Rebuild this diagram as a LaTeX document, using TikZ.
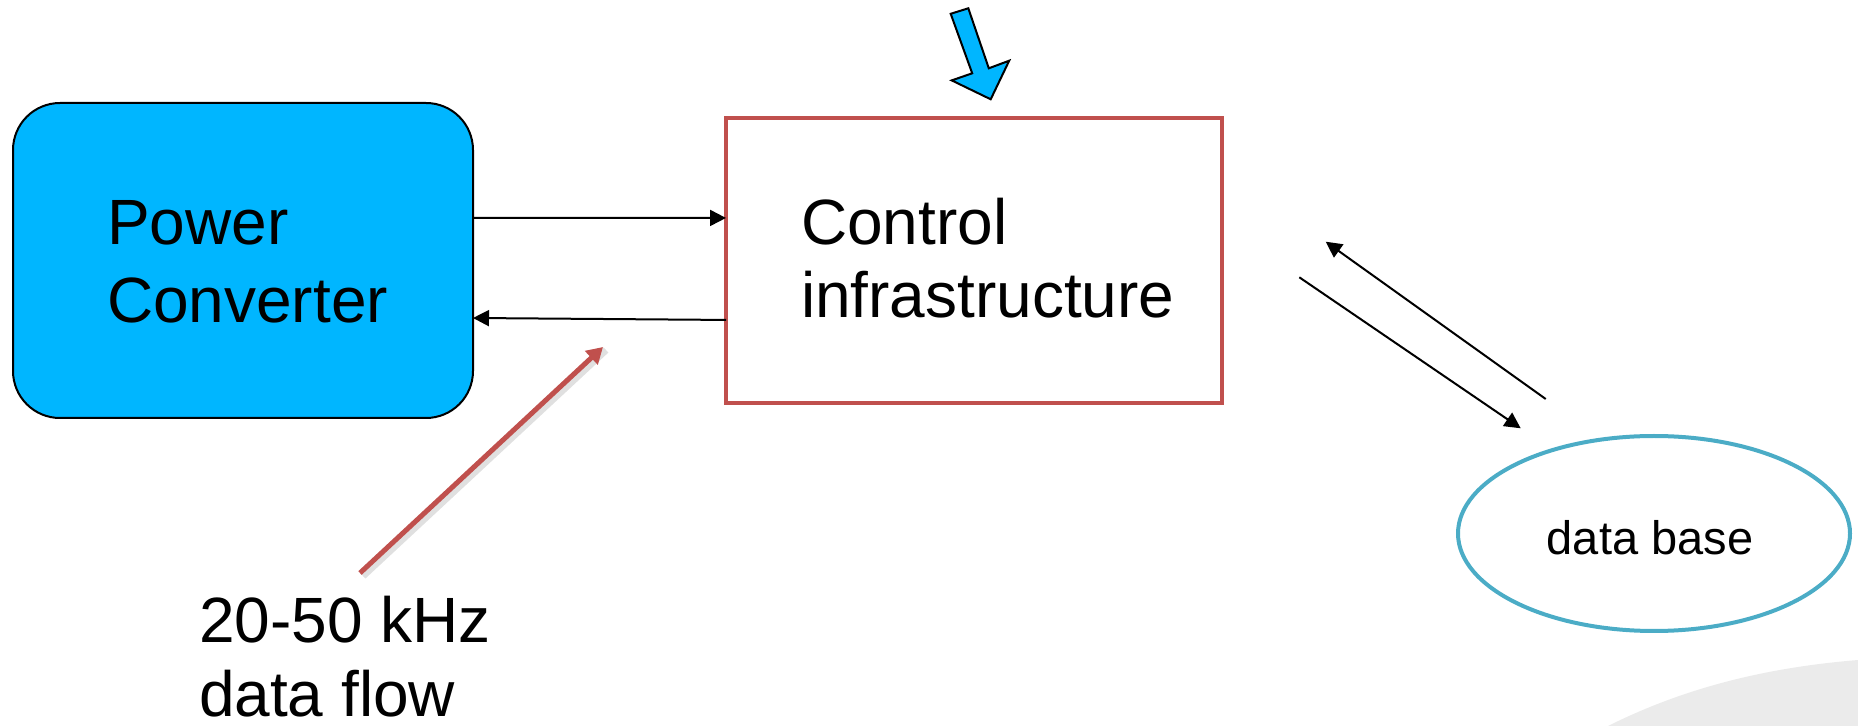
\documentclass[tikz,border=0pt]{standalone}
\usepackage{fontspec}
\setmainfont{Liberation Sans}
\usetikzlibrary{arrows.meta,shapes.geometric}
\begin{document}
\definecolor{convblue}{HTML}{00B6FF}
\definecolor{ctrlred}{HTML}{C0504D}
\definecolor{dbcyan}{HTML}{4BACC6}
\definecolor{swoosh}{HTML}{EBEBEB}
\tikzset{
  convbox/.style={draw=black, line width=1pt, fill=convblue, rounded corners=23.5pt,
    minimum width=230pt, minimum height=157.5pt, inner sep=0pt, outer sep=0pt},
  ctrlbox/.style={draw=ctrlred, line width=2pt, minimum width=248pt,
    minimum height=142.25pt, inner sep=0pt, outer sep=0pt},
  dbnode/.style={ellipse, draw=dbcyan, line width=2pt, minimum width=196pt,
    minimum height=97.5pt, inner sep=0pt, outer sep=0pt},
  txt/.style={inner sep=0pt, outer sep=0pt, anchor=south west, align=left},
  flow/.style={line width=1pt, -{Triangle[length=8pt,width=8pt]}},
  pointer/.style={draw=ctrlred, line width=2.5pt, line cap=butt,
    -{Triangle[length=8pt,width=9pt]}},
}
\begin{tikzpicture}[x=0.5pt, y=-0.5pt]
  \useasboundingbox (0,0) rectangle (1858,726);

  % light grey swoosh in the lower right corner
  \fill[swoosh] (1608,726) .. controls (1680,690) and (1760,668) .. (1858,660)
    -- (1858,726) -- cycle;

  % blocks
  \node[convbox] (pc) at (243,260.5) {};
  \node[txt, font=\fontsize{32}{39}\selectfont] (pctext) at (107,323)
    {Power\\Converter};
  \node[ctrlbox] (ci) at (974,260.75) {};
  \node[txt, font=\fontsize{32}{36.5}\selectfont] (citext) at (801,318)
    {Control\\infrastructure};
  \node[dbnode] (db) at (1654,533.5) {};
  \node[inner sep=0pt, anchor=base, font=\fontsize{23.5}{28}\selectfont]
    (dbtext) at (1650,555) {data base};

  % links between converter and control
  \draw[flow] ([yshift=21.25pt]pc.east) -- ([yshift=21.4pt]ci.west);
  \draw[flow] ([yshift=-29.6pt]ci.west) -- ([yshift=-28.75pt]pc.east);

  % exchange with the data base
  \coordinate (upA) at (1545.7,399);
  \coordinate (upB) at (1325.7,241.7);
  \coordinate (dnA) at (1299.3,277.3);
  \coordinate (dnB) at (1520.7,428.3);
  \draw[flow] (upA) -- (upB);
  \draw[flow] (dnA) -- (dnB);

  % incoming block arrow above the control box
  \filldraw[fill=convblue, draw=black, line width=1pt, line join=miter]
    (950.7,13.8) -- (972.2,73.3) -- (951.7,80.4) -- (990.7,99.3)
    -- (1009.2,60.7) -- (988.8,68.3) -- (968.3,8.3) -- cycle;

  % data-rate annotation
  \node[txt, font=\fontsize{32}{37}\selectfont] (rate) at (199,717)
    {20-50 kHz\\data flow};
  \coordinate (ptail) at (360,573);
  \coordinate (ptip) at (603,347);
  \draw[black, opacity=0.12, line width=3.5pt] ([xshift=1.5pt,yshift=-1.5pt]ptail)
    -- ([xshift=1.5pt,yshift=-1.5pt]ptip);
  \draw[pointer] (ptail) -- (ptip);
\end{tikzpicture}
\end{document}
